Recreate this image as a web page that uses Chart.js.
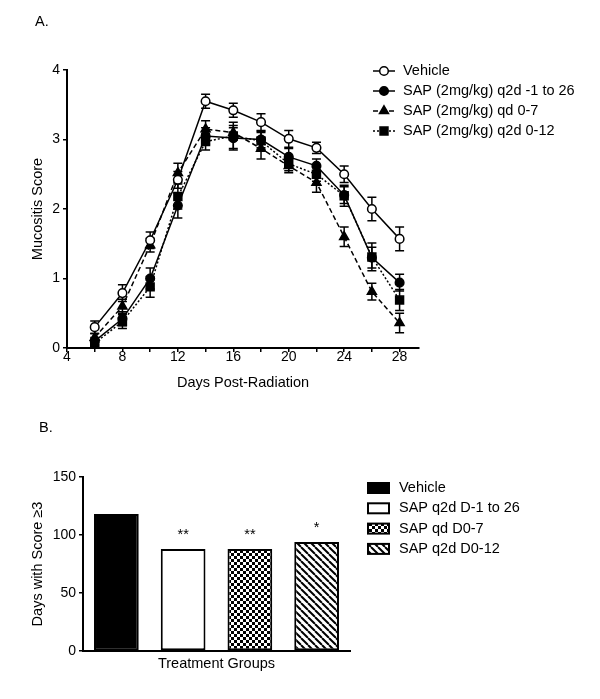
<!DOCTYPE html>
<html><head><meta charset="utf-8">
<script src="https://cdn.jsdelivr.net/npm/chart.js@4.4.0/dist/chart.umd.min.js"></script>
<style>
html,body{margin:0;padding:0;background:#fff;width:600px;height:699px;overflow:hidden;}
#wrapA{position:absolute;left:0;top:0;width:600px;height:400px;}
#wrapB{position:absolute;left:0;top:400px;width:600px;height:299px;}
.panel{position:absolute;font:14.5px "Liberation Sans",Arial,sans-serif;color:#000;line-height:17px;}
</style></head><body>
<div id="wrapA"><canvas id="chartA" width="600" height="400"></canvas></div>
<div id="wrapB"><canvas id="chartB" width="600" height="299"></canvas></div>
<div class="panel" style="left:35px;top:13px;">A.</div>
<div class="panel" style="left:39px;top:419px;">B.</div>
<script>
// ---- Panel A data ----
const days = [6, 8, 10, 12, 14, 16, 18, 20, 22, 24, 26, 28];
const xTickValues = [4, 6, 8, 10, 12, 14, 16, 18, 20, 22, 24, 26, 28];
const lineLabels = ['Vehicle', 'SAP (2mg/kg) q2d -1 to 26', 'SAP (2mg/kg) qd 0-7', 'SAP (2mg/kg) q2d 0-12'];
const vehicleMean   = [0.30, 0.79, 1.55, 2.42, 3.55, 3.42, 3.25, 3.01, 2.88, 2.50, 2.00, 1.57];
const vehicleSem    = [0.09, 0.12, 0.12, 0.12, 0.10, 0.10, 0.12, 0.12, 0.08, 0.12, 0.17, 0.17];
const sapQ2dAllMean = [0.10, 0.42, 1.00, 2.05, 3.05, 3.02, 3.00, 2.75, 2.62, 2.20, 1.30, 0.94];
const sapQ2dAllSem  = [0.05, 0.10, 0.15, 0.18, 0.12, 0.15, 0.12, 0.12, 0.10, 0.12, 0.15, 0.12];
const sapQdMean     = [0.15, 0.60, 1.48, 2.52, 3.15, 3.10, 2.87, 2.62, 2.38, 1.60, 0.81, 0.36];
const sapQdSem      = [0.06, 0.10, 0.10, 0.14, 0.12, 0.10, 0.15, 0.10, 0.14, 0.14, 0.12, 0.14];
const sapQ2d012Mean = [0.07, 0.38, 0.88, 2.18, 2.97, 3.05, 2.98, 2.65, 2.50, 2.19, 1.31, 0.69];
const sapQ2d012Sem  = [0.04, 0.10, 0.15, 0.18, 0.12, 0.20, 0.12, 0.10, 0.10, 0.15, 0.20, 0.15];

// ---- Panel B data ----
const barLabels = ['Vehicle', 'SAP q2d D-1 to 26', 'SAP qd D0-7', 'SAP q2d D0-12'];
const daysScoreAtLeast3 = [118, 88, 88, 94];
const significance = ['', '**', '**', '*'];

const FONT = '"Liberation Sans", Arial, sans-serif';
Chart.defaults.font.family = FONT;
Chart.defaults.font.size = 14;
Chart.defaults.color = '#000';

const lineMeans = [vehicleMean, sapQ2dAllMean, sapQdMean, sapQ2d012Mean];
const lineSems = [vehicleSem, sapQ2dAllSem, sapQdSem, sapQ2d012Sem];
const lineStyles = [
  {pointStyle:'circle', radius:4.3, bg:'#fff', dash:[]},
  {pointStyle:'circle', radius:4.3, bg:'#000', dash:[]},
  {pointStyle:'triangle', radius:5.2, bg:'#000', dash:[5,3]},
  {pointStyle:'rect', radius:5.6, bg:'#000', dash:[2,2]}
];

const lineDatasets = lineLabels.map((lab, i) => ({
  label: lab,
  data: days.map((d, j) => ({x: d, y: lineMeans[i][j]})),
  borderColor: '#000',
  borderWidth: 1.5,
  borderDash: lineStyles[i].dash,
  pointStyle: lineStyles[i].pointStyle,
  pointRadius: lineStyles[i].radius,
  pointBackgroundColor: lineStyles[i].bg,
  pointBorderColor: '#000',
  pointBorderWidth: 1.5,
  tension: 0,
  fill: false,
  clip: false
}));

const errorBarPlugin = {
  id: 'errorBars',
  beforeDatasetsDraw(chart) {
    const {ctx, scales: {x, y}} = chart;
    ctx.save();
    ctx.strokeStyle = '#000';
    ctx.lineWidth = 1.5;
    ctx.setLineDash([]);
    chart.data.datasets.forEach((ds, i) => {
      const sem = lineSems[i];
      ds.data.forEach((p, j) => {
        const px = x.getPixelForValue(p.x);
        const t = y.getPixelForValue(p.y + sem[j]);
        const b = y.getPixelForValue(p.y - sem[j]);
        ctx.beginPath();
        ctx.moveTo(px, t); ctx.lineTo(px, b);
        ctx.moveTo(px - 4.5, t); ctx.lineTo(px + 4.5, t);
        ctx.moveTo(px - 4.5, b); ctx.lineTo(px + 4.5, b);
        ctx.stroke();
      });
    });
    ctx.restore();
  }
};

const legendAPlugin = {
  id: 'legendA',
  afterDraw(chart) {
    const ctx = chart.ctx;
    ctx.save();
    chart.data.datasets.forEach((ds, i) => {
      const y = 71 + 20 * i;
      ctx.strokeStyle = '#000';
      ctx.lineWidth = ds.borderWidth;
      ctx.setLineDash(ds.borderDash || []);
      ctx.beginPath(); ctx.moveTo(373, y); ctx.lineTo(395, y); ctx.stroke();
      ctx.setLineDash([]);
      ctx.fillStyle = ds.pointBackgroundColor;
      ctx.strokeStyle = '#000';
      ctx.lineWidth = ds.pointBorderWidth;
      Chart.helpers.drawPoint(ctx, {pointStyle: ds.pointStyle, radius: ds.pointRadius, rotation: 0, borderWidth: ds.pointBorderWidth}, 384, y);
      ctx.fillStyle = '#000';
      ctx.font = '14.5px ' + FONT;
      ctx.textBaseline = 'middle';
      ctx.textAlign = 'left';
      ctx.fillText(ds.label, 403, y);
    });
    ctx.restore();
  }
};

const axisCommon = {
  border: {display: true, color: '#000', width: 2},
  grid: {display: true, drawOnChartArea: false, drawTicks: true, tickLength: 4, color: '#000', lineWidth: 1.5}
};

new Chart(document.getElementById('chartA'), {
  type: 'line',
  data: {datasets: lineDatasets},
  options: {
    responsive: false,
    animation: false,
    layout: {padding: {left: 0, top: 70, right: 181, bottom: 0}},
    plugins: {legend: {display: false}, tooltip: {enabled: false}},
    scales: {
      x: {
        type: 'linear', min: 4, max: 29.4,
        ...axisCommon,
        ticks: {padding: -3, autoSkip: false, maxRotation: 0, font: {size: 14}, callback: v => (v % 4 === 0 ? String(v) : '')},
        afterBuildTicks: s => { s.ticks = xTickValues.map(v => ({value: v})); },
        afterFit: s => { s.height = 52; },
        title: {display: true, text: 'Days Post-Radiation', font: {size: 14.5}, padding: {top: 0, bottom: 8.3}}
      },
      y: {
        type: 'linear', min: 0, max: 4,
        ...axisCommon,
        ticks: {stepSize: 1, padding: 3, font: {size: 14}},
        afterFit: s => { s.width = 67; },
        title: {display: true, text: 'Mucositis Score', font: {size: 14.5}, padding: {top: 29.3, bottom: 0}}
      }
    }
  },
  plugins: [errorBarPlugin, legendAPlugin]
});

// ---- Panel B ----
function checkerPattern() {
  const c = document.createElement('canvas'); c.width = 6; c.height = 6;
  const g = c.getContext('2d');
  g.fillStyle = '#fff'; g.fillRect(0, 0, 6, 6);
  g.fillStyle = '#000'; g.fillRect(0, 0, 3, 3); g.fillRect(3, 3, 3, 3);
  return g.createPattern(c, 'repeat');
}
function stripePattern() {
  const s = 7;
  const c = document.createElement('canvas'); c.width = s; c.height = s;
  const g = c.getContext('2d');
  g.fillStyle = '#fff'; g.fillRect(0, 0, s, s);
  g.strokeStyle = '#000'; g.lineWidth = 2;
  [-s, 0, s].forEach(k => { g.beginPath(); g.moveTo(k, 0); g.lineTo(k + s, s); g.stroke(); });
  return g.createPattern(c, 'repeat');
}
const barFills = ['#000', '#fff', checkerPattern(), stripePattern()];

const starsPlugin = {
  id: 'stars',
  afterDatasetsDraw(chart) {
    const ctx = chart.ctx;
    const meta = chart.getDatasetMeta(0);
    ctx.save();
    ctx.fillStyle = '#000';
    ctx.font = '14.5px ' + FONT;
    ctx.textAlign = 'center';
    ctx.textBaseline = 'alphabetic';
    meta.data.forEach((el, i) => {
      if (significance[i]) ctx.fillText(significance[i], el.x, el.y - 10);
    });
    ctx.restore();
  }
};

const legendBPlugin = {
  id: 'legendB',
  afterDraw(chart) {
    const ctx = chart.ctx;
    ctx.save();
    chart.data.labels.forEach((lab, i) => {
      const y = 88 + 20.3 * i;
      ctx.fillStyle = barFills[i];
      ctx.fillRect(368, y - 5, 21, 10);
      ctx.strokeStyle = '#000'; ctx.lineWidth = 2;
      ctx.strokeRect(368, y - 5, 21, 10);
      ctx.fillStyle = '#000';
      ctx.font = '14.5px ' + FONT;
      ctx.textBaseline = 'middle';
      ctx.textAlign = 'left';
      ctx.fillText(lab, 399, y);
    });
    ctx.restore();
  }
};

new Chart(document.getElementById('chartB'), {
  type: 'bar',
  data: {
    labels: barLabels,
    datasets: [{
      label: 'Days with Score \u22653',
      data: daysScoreAtLeast3,
      backgroundColor: barFills,
      borderColor: '#000',
      borderWidth: 2,
      borderSkipped: false,
      categoryPercentage: 1,
      barPercentage: 0.67
    }]
  },
  options: {
    responsive: false,
    animation: false,
    layout: {padding: {left: 0, top: 77, right: 250, bottom: 0}},
    plugins: {legend: {display: false}, tooltip: {enabled: false}},
    scales: {
      x: {
        border: {display: true, color: '#000', width: 2},
        grid: {display: false},
        ticks: {display: false},
        afterFit: s => { s.height = 48; },
        title: {display: true, text: 'Treatment Groups', font: {size: 14.5}, padding: {top: 0, bottom: 26.3}}
      },
      y: {
        min: 0, max: 150,
        ...axisCommon,
        ticks: {stepSize: 50, padding: 3, font: {size: 14}},
        afterFit: s => { s.width = 83; },
        title: {display: true, text: 'Days with Score \u22653', font: {size: 14.5}, padding: {top: 29.3, bottom: 0}}
      }
    }
  },
  plugins: [starsPlugin, legendBPlugin]
});
</script>
</body></html>
